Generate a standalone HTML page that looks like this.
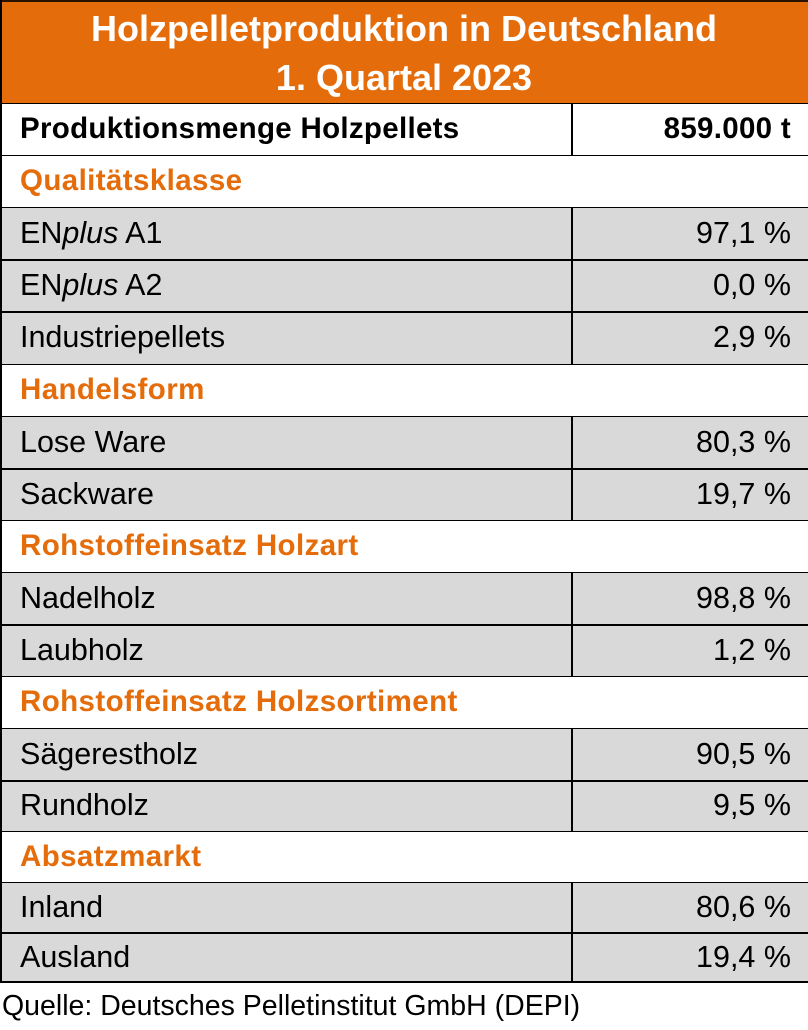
<!DOCTYPE html>
<html>
<head>
<meta charset="utf-8">
<style>
html,body{margin:0;padding:0;background:#fff;}
#c{position:relative;width:808px;height:1030px;overflow:hidden;background:#fff;font-family:"Liberation Sans",Arial,sans-serif;}
.hdr{position:absolute;left:0;top:0;width:808px;height:103px;background:#E46C0A;}
.t{position:absolute;left:0;width:808px;text-align:center;color:#fff;font-weight:bold;font-size:36px;line-height:49px;white-space:nowrap;}
.row{position:absolute;left:0;width:808px;}
.g{background:#D9D9D9;}
.lbl{position:absolute;left:20px;top:0;font-size:30.5px;color:#000;white-space:nowrap;}
.val{position:absolute;right:17px;top:0;font-size:30.5px;color:#000;white-space:nowrap;text-align:right;}
.b{font-weight:bold;font-size:29.5px;letter-spacing:0.3px;}
.sec{color:#E46C0A;font-weight:bold;font-size:29.5px;letter-spacing:0.4px;}
.hl{position:absolute;left:0;width:808px;background:#000;}
.vl{position:absolute;left:571px;width:2px;background:#000;}
</style>
</head>
<body>
<div id="c">
  <div class="hdr"></div>
  <div class="t" style="top:4px;">Holzpelletproduktion in Deutschland</div>
  <div class="t" style="top:53px;">1. Quartal 2023</div>

  <div class="row" style="top:103px;height:52px;">
    <div class="lbl b" style="line-height:52px;">Produktionsmenge Holzpellets</div>
    <div class="val b" style="line-height:52px;">859.000 t</div>
  </div>
  <div class="row" style="top:155px;height:52px;">
    <div class="lbl sec" style="line-height:52px;">Qualitätsklasse</div>
  </div>
  <div class="row g" style="top:207px;height:52px;">
    <div class="lbl" style="line-height:52px;">EN<i>plus</i> A1</div>
    <div class="val" style="line-height:52px;">97,1 %</div>
  </div>
  <div class="row g" style="top:259px;height:52px;">
    <div class="lbl" style="line-height:52px;">EN<i>plus</i> A2</div>
    <div class="val" style="line-height:52px;">0,0 %</div>
  </div>
  <div class="row g" style="top:311px;height:53px;">
    <div class="lbl" style="line-height:53px;">Industriepellets</div>
    <div class="val" style="line-height:53px;">2,9 %</div>
  </div>
  <div class="row" style="top:364px;height:52px;">
    <div class="lbl sec" style="line-height:52px;">Handelsform</div>
  </div>
  <div class="row g" style="top:416px;height:52px;">
    <div class="lbl" style="line-height:52px;">Lose Ware</div>
    <div class="val" style="line-height:52px;">80,3 %</div>
  </div>
  <div class="row g" style="top:468px;height:52px;">
    <div class="lbl" style="line-height:52px;">Sackware</div>
    <div class="val" style="line-height:52px;">19,7 %</div>
  </div>
  <div class="row" style="top:520px;height:52px;">
    <div class="lbl sec" style="line-height:52px;">Rohstoffeinsatz Holzart</div>
  </div>
  <div class="row g" style="top:572px;height:52px;">
    <div class="lbl" style="line-height:52px;">Nadelholz</div>
    <div class="val" style="line-height:52px;">98,8 %</div>
  </div>
  <div class="row g" style="top:624px;height:52px;">
    <div class="lbl" style="line-height:52px;">Laubholz</div>
    <div class="val" style="line-height:52px;">1,2 %</div>
  </div>
  <div class="row" style="top:676px;height:52px;">
    <div class="lbl sec" style="line-height:52px;">Rohstoffeinsatz Holzsortiment</div>
  </div>
  <div class="row g" style="top:728px;height:52px;">
    <div class="lbl" style="line-height:52px;">Sägerestholz</div>
    <div class="val" style="line-height:52px;">90,5 %</div>
  </div>
  <div class="row g" style="top:780px;height:51px;">
    <div class="lbl" style="line-height:51px;">Rundholz</div>
    <div class="val" style="line-height:51px;">9,5 %</div>
  </div>
  <div class="row" style="top:831px;height:51px;">
    <div class="lbl sec" style="line-height:51px;">Absatzmarkt</div>
  </div>
  <div class="row g" style="top:882px;height:51px;">
    <div class="lbl" style="line-height:51px;">Inland</div>
    <div class="val" style="line-height:51px;">80,6 %</div>
  </div>
  <div class="row g" style="top:933px;height:49px;">
    <div class="lbl" style="line-height:49px;">Ausland</div>
    <div class="val" style="line-height:49px;">19,4 %</div>
  </div>

  <div style="position:absolute;left:2px;top:982px;font-size:28.5px;line-height:48px;color:#000;white-space:nowrap;">Quelle: Deutsches Pelletinstitut GmbH (DEPI)</div>

  <div class="hl" style="top:0;height:2px;background:#2a1200;"></div>
  <div class="hl" style="top:103px;height:1px;"></div>
  <div class="hl" style="top:155px;height:1px;"></div>
  <div class="hl" style="top:207px;height:1px;"></div>
  <div class="hl" style="top:259px;height:2px;"></div>
  <div class="hl" style="top:311px;height:2px;"></div>
  <div class="hl" style="top:364px;height:1px;"></div>
  <div class="hl" style="top:416px;height:1px;"></div>
  <div class="hl" style="top:468px;height:2px;"></div>
  <div class="hl" style="top:520px;height:1px;"></div>
  <div class="hl" style="top:572px;height:1px;"></div>
  <div class="hl" style="top:624px;height:2px;"></div>
  <div class="hl" style="top:676px;height:1px;"></div>
  <div class="hl" style="top:728px;height:1px;"></div>
  <div class="hl" style="top:780px;height:2px;"></div>
  <div class="hl" style="top:831px;height:1px;"></div>
  <div class="hl" style="top:882px;height:1px;"></div>
  <div class="hl" style="top:932px;height:2px;"></div>
  <div class="hl" style="top:981px;height:2px;"></div>

  <div style="position:absolute;left:0;top:0;width:2px;height:983px;background:#000;"></div>

  <div class="vl" style="top:103px;height:52px;"></div>
  <div class="vl" style="top:207px;height:157px;"></div>
  <div class="vl" style="top:416px;height:104px;"></div>
  <div class="vl" style="top:572px;height:104px;"></div>
  <div class="vl" style="top:728px;height:103px;"></div>
  <div class="vl" style="top:882px;height:100px;"></div>
</div>
</body>
</html>
